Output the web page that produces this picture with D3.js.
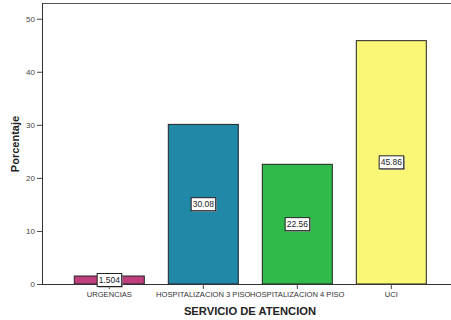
<!DOCTYPE html>
<html><head><meta charset="utf-8">
<script src="https://cdn.jsdelivr.net/npm/d3@7"></script>
<style>body{margin:0;background:#fff;}svg{display:block;}</style>
</head><body>
<script>
const categories = ["URGENCIAS", "HOSPITALIZACION 3 PISO", "HOSPITALIZACION 4 PISO", "UCI"];
const values = [1.504, 30.08, 22.56, 45.86];
const valueLabels = ["1.504", "30.08", "22.56", "45.86"];
const colors = ["#BE3E7E", "#2288A8", "#30BA4A", "#FBF776"];
const yTicks = [0, 10, 20, 30, 40, 50];

(function () {
const W = 451, H = 320;
const svg = d3.select("body").append("svg").attr("width", W).attr("height", H);
const mLeft = 42, mTop = 3, mBottom = 284;

const y = d3.scaleLinear().domain([0, 50]).range([mBottom, 18.7]);
const x = d3.scaleBand().domain(categories).range([50.3, 450.3]).padding(0.2553);

// frame top line
svg.append("line").attr("x1", mLeft).attr("x2", W).attr("y1", mTop + 0.5).attr("y2", mTop + 0.5)
  .attr("stroke", "#555").attr("stroke-width", 1);

// bars
svg.selectAll("rect.bar").data(values).enter().append("rect")
  .attr("class", "bar")
  .attr("x", (d, i) => x(categories[i]))
  .attr("width", x.bandwidth())
  .attr("y", d => y(d))
  .attr("height", d => mBottom - y(d))
  .attr("fill", (d, i) => colors[i])
  .attr("stroke", "#222").attr("stroke-width", 1);

// y axis
const yAxis = d3.axisLeft(y).tickValues(yTicks).tickSize(5).tickPadding(2).tickFormat(d3.format("d"));
const gy = svg.append("g").attr("transform", `translate(${mLeft},0)`).call(yAxis);
gy.select(".domain").attr("d", `M0.5,${mTop}V${mBottom}`).attr("stroke", "#333");
gy.selectAll(".tick line").attr("stroke", "#444");
gy.selectAll("text").attr("font-family", "Liberation Sans, Arial, sans-serif").attr("font-size", 8).attr("fill", "#444");

// x axis
const xAxis = d3.axisBottom(x).tickSize(5).tickPadding(3);
const gx = svg.append("g").attr("transform", `translate(0,${mBottom})`).call(xAxis);
gx.select(".domain").attr("d", `M${mLeft},0.5H${W}`).attr("stroke", "#333");
gx.selectAll(".tick line").attr("stroke", "#444");
gx.selectAll("text").attr("font-family", "Liberation Sans, Arial, sans-serif").attr("font-size", 7.6)
  .attr("fill", "#333");

// value labels
const lg = svg.selectAll("g.vl").data(values).enter().append("g").attr("class", "vl")
  .attr("transform", (d, i) => `translate(${x(categories[i]) + x.bandwidth() / 2},${(y(d) + mBottom) / 2})`);
lg.each(function (d, i) {
  const g = d3.select(this);
  const t = g.append("text").text(valueLabels[i])
    .attr("font-family", "Liberation Sans, Arial, sans-serif").attr("font-size", 8.5)
    .attr("text-anchor", "middle").attr("dy", "0.35em").attr("fill", "#222");
  const bb = t.node().getBBox();
  g.insert("rect", "text").attr("x", bb.x - 1.5 + 1).attr("y", -6.5 + 1).attr("width", bb.width + 3).attr("height", 13)
    .attr("fill", "#999");
  g.insert("rect", "text").attr("x", bb.x - 1.5).attr("y", -6.5).attr("width", bb.width + 3).attr("height", 13)
    .attr("fill", "#fff").attr("stroke", "#222").attr("stroke-width", 1);
});

// axis titles
svg.append("text").text("Porcentaje")
  .attr("transform", `translate(19,144) rotate(-90)`)
  .attr("text-anchor", "middle").attr("font-family", "Liberation Sans, Arial, sans-serif")
  .attr("font-size", 11).attr("font-weight", "bold").attr("fill", "#222");
svg.append("text").text("SERVICIO DE ATENCION")
  .attr("x", 250).attr("y", 315)
  .attr("text-anchor", "middle").attr("font-family", "Liberation Sans, Arial, sans-serif")
  .attr("font-size", 11.2).attr("font-weight", "bold").attr("fill", "#222");
})();
</script>
</body></html>
